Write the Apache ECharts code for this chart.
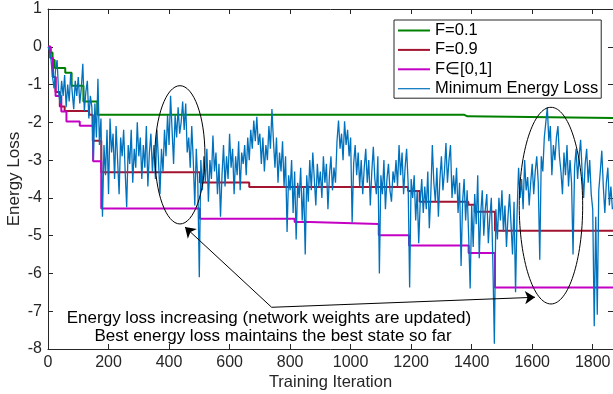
<!DOCTYPE html>
<html><head><meta charset="utf-8">
<script src="https://cdn.jsdelivr.net/npm/echarts@6/dist/echarts.min.js"></script>
<style>html,body{margin:0;padding:0;background:#fff}#c{width:613px;height:394px}</style>
</head><body><div id="c"></div>
<script>
const FONT = '"Liberation Sans", Arial, Helvetica, sans-serif';

// Minimum energy loss, one value every 5 iterations starting at 0
const blueStep = 5;
const blueLoss = [
  0, -0.1, -0.35, -0.8, -1.1, -0.6, -0.35, -1.2, -1.5, -0.9,
  -1.3, -0.75, -1.6, -1.0, -1.45, -0.7, -1.2, -1.65, -0.9, -1.3,
  -0.8, -1.5, -1.1, -0.45, -1.7, -1.2, -0.9, -1.9, -1.3, -1.6,
  -3.0, -1.5, -2.4, -0.85, -2.6, -1.9, -4.5, -2.6, -3.4, -2.2,
  -3.9, -1.9, -2.8, -2.3, -3.5, -2.1, -3.0, -3.9, -2.4, -2.9,
  -2.2, -3.3, -4.25, -2.6, -3.1, -2.2, -3.6, -2.7, -3.2, -2.0,
  -2.9, -2.4, -3.5, -2.6, -3.2, -2.1, -3.7, -2.8, -2.3, -3.3,
  -2.6, -3.5, -2.2, -3.0, -3.9, -2.7, -3.3, -2.2, -2.9, -1.8,
  -2.6, -1.3, -2.2, -3.1, -1.8, -2.4, -1.6, -2.3, -2.0, -1.45,
  -2.2, -1.5, -2.8, -2.4, -3.2, -2.1, -3.0, -4.2, -2.7, -3.6,
  -6.1, -3.0, -3.8, -2.9, -3.6, -2.7, -4.1, -3.0, -3.5, -2.35,
  -3.3, -2.8, -3.9, -3.1, -4.5, -3.4, -2.6, -3.7, -2.9, -3.5,
  -2.3, -3.2, -2.7, -3.9, -2.9, -3.4, -2.5, -3.8, -2.8, -3.1,
  -2.6, -3.4, -2.4, -3.0, -2.2, -2.7, -1.95, -2.5, -1.85, -2.6,
  -2.3, -3.1, -2.4, -3.3, -2.6, -3.0, -2.1, -2.7, -1.65, -2.5,
  -3.2, -2.4, -3.6, -2.8, -3.3, -2.5, -3.7, -2.9, -4.9, -3.4,
  -3.8, -3.0, -4.4, -3.3, -5.1, -3.6, -4.0, -3.2, -4.6, -3.7,
  -5.5, -3.4, -4.1, -3.0, -3.8, -2.8, -3.5, -4.2, -3.1, -3.7,
  -3.3, -4.0, -2.9, -3.6, -3.1, -4.3, -3.4, -2.9, -3.8, -3.2,
  -3.6, -2.5, -1.95, -2.7, -2.3, -3.0, -1.97, -2.6, -2.2, -2.9,
  -2.4, -4.65, -3.1, -2.6, -3.4, -2.8, -3.7, -3.0, -3.9, -3.2,
  -2.7, -3.6, -3.0, -4.2, -3.3, -2.65, -3.5, -3.9, -2.9, -6.0,
  -3.4, -3.9, -3.0, -4.3, -3.5, -3.1, -3.8, -4.1, -3.3, -3.6,
  -3.0, -3.7, -2.6, -3.4, -2.8, -3.9, -3.2, -2.7, -3.6, -6.37,
  -3.5, -4.0, -3.4, -4.6, -3.8, -5.2, -4.1, -3.5, -4.4, -3.7,
  -4.3, -3.3, -4.8, -3.9, -2.6, -3.6, -4.1, -3.2, -4.5, -3.5,
  -2.9, -3.8, -3.3, -2.55, -3.6, -3.0, -2.6, -4.0, -3.4, -3.9,
  -3.2, -4.4, -3.6, -5.8, -4.1, -3.5, -4.6, -3.8, -5.0, -6.4,
  -4.2, -5.3, -3.9, -4.7, -3.4, -5.6, -4.4, -3.8, -5.0, -4.3,
  -3.9, -5.2, -4.5, -4.0, -5.7, -7.86, -4.3, -5.1, -4.0, -4.6,
  -3.8, -4.9, -4.2, -5.3, -4.5, -3.9, -4.7, -5.5, -4.1, -6.5,
  -4.4, -3.2, -4.0, -3.5, -4.3, -3.0, -3.8, -3.45, -4.2, -3.6,
  -3.1, -3.9, -3.3, -2.9, -3.6, -5.64, -2.9, -3.3, -2.4, -2.0,
  -1.6, -2.5, -2.1, -3.4, -2.6, -3.0, -2.4, -2.1, -2.9, -3.3,
  -3.9, -2.8, -3.4, -2.6, -3.7, -3.0, -3.6, -5.5, -3.2, -2.7,
  -3.5, -2.9, -2.46, -3.3, -4.0, -3.1, -2.7, -3.6, -3.0, -3.9,
  -4.3, -7.4, -4.5, -7.09, -3.8, -3.3, -2.75, -3.7, -4.4, -3.6,
  -3.2, -4.2, -3.7, -4.3
];

// Best-so-far step curves: [iteration where value changes, new value]
const f01Steps = [[0,0],[8,-0.15],[15,-0.35],[22,-0.56],[57,-0.69],[78,-1.03],[117,-1.45],[163,-1.80],[1376,-1.84],[1386,-1.885],[1867,-1.885]];
const f09Steps = [[0,0],[8,-0.3],[16,-0.8],[25,-1.2],[39,-1.58],[55,-1.70],[136,-1.80],[148,-2.49],[176,-3.32],[502,-3.59],[665,-3.71],[1190,-3.82],[1228,-4.10],[1389,-4.18],[1410,-4.37],[1477,-4.87],[1867,-4.87]];
const fAnySteps = [[0,0],[8,-0.3],[16,-0.8],[25,-1.3],[44,-1.71],[61,-1.975],[105,-2.09],[149,-3.03],[176,-4.28],[502,-4.55],[815,-4.64],[865,-4.69],[1093,-4.99],[1193,-5.26],[1390,-5.46],[1477,-6.37],[1867,-6.37]];

const seriesNames = ['F=0.1', 'F=0.9', 'F\u2208[0,1]', 'Minimum Energy Loss'];
const seriesColors = ['#008000', '#A2142F', '#C400C4', '#0072BD'];
const xRange = [0, 1867], xStep = 200;
const yRange = [-8, 1], yStep = 1;
const xName = 'Training Iteration', yName = 'Energy Loss';

// Annotations (data units): ellipse [cx, cy, rx, ry], arrows [from, to]
const ellipses = [[436, -2.86, 82.6, 1.83], [1662, -4.205, 104.8, 2.603]];
const arrows = [[[739, -6.896], [452.7, -4.77]], [[739, -6.896], [1609.3, -6.631]]];
const noteLines = ['Energy loss increasing (network weights are updated)', 'Best energy loss maintains the best state so far'];

const bluePairs = blueLoss.map((v, i) => [i * blueStep, v]);
const axisColor = '#262626';

const chart = echarts.init(document.getElementById('c'), null, {renderer: 'canvas'});
const axisCommon = {
  axisLine: {show: true, onZero: false, lineStyle: {color: axisColor, width: 1}},
  axisTick: {show: true, inside: true, length: 5, lineStyle: {color: axisColor}},
  splitLine: {show: false}
};
const legendIcons = ['path://M0,0H32V2H0Z', 'path://M0,0H32V2H0Z', 'path://M0,0H32V2H0Z', 'path://M0,0H32V1.2H0Z'];
chart.setOption({
  animation: false,
  backgroundColor: '#fff',
  textStyle: {fontFamily: FONT},
  grid: {left: 48, right: 0, top: 9, bottom: 45, containLabel: false, outerBoundsMode: 'none'},
  legend: {
    data: seriesNames.map((n, i) => ({name: n, icon: legendIcons[i]})),
    orient: 'vertical',
    left: 394, top: 20,
    padding: [2, 3, 1, 4],
    itemWidth: 32, itemHeight: 16, itemGap: 2.4,
    symbolKeepAspect: true,
    borderColor: axisColor, borderWidth: 1, backgroundColor: '#fff',
    textStyle: {fontFamily: FONT, fontSize: 16.5, color: '#000', lineHeight: 16}
  },
  xAxis: [
    Object.assign({type: 'value', min: xRange[0], max: xRange[1], interval: xStep, position: 'bottom',
      name: xName, nameLocation: 'middle', nameGap: 25, nameMoveOverlap: false,
      nameTextStyle: {fontFamily: FONT, fontSize: 16.5, color: axisColor},
      axisLabel: {show: true, margin: 6, showMaxLabel: false, fontFamily: FONT, fontSize: 16, color: axisColor,
        formatter: v => (v % xStep === 0 ? String(v) : '')}}, axisCommon),
    Object.assign({type: 'value', min: xRange[0], max: xRange[1], interval: xStep, position: 'top',
      axisLabel: {show: false}}, axisCommon)
  ],
  yAxis: [
    Object.assign({type: 'value', min: yRange[0], max: yRange[1], interval: yStep, position: 'left',
      name: yName, nameLocation: 'middle', nameGap: 25, nameMoveOverlap: false,
      nameTextStyle: {fontFamily: FONT, fontSize: 17, color: axisColor},
      axisLabel: {show: true, margin: 6, fontFamily: FONT, fontSize: 16, color: axisColor}}, axisCommon),
    Object.assign({type: 'value', min: yRange[0], max: yRange[1], interval: yStep, position: 'right',
      axisLabel: {show: false}}, axisCommon)
  ],
  series: [
    {name: seriesNames[0], type: 'line', step: 'end', data: f01Steps, symbol: 'none', color: seriesColors[0],
      lineStyle: {width: 2, color: seriesColors[0]}, z: 2},
    {name: seriesNames[1], type: 'line', step: 'end', data: f09Steps, symbol: 'none', color: seriesColors[1],
      lineStyle: {width: 2, color: seriesColors[1]}, z: 2},
    {name: seriesNames[2], type: 'line', step: 'end', data: fAnySteps, symbol: 'none', color: seriesColors[2],
      lineStyle: {width: 2, color: seriesColors[2]}, z: 2},
    {name: seriesNames[3], type: 'line', data: bluePairs, symbol: 'none', color: seriesColors[3],
      lineStyle: {width: 1.3, color: seriesColors[3]}, z: 3},
    {type: 'custom', silent: true, z: 4, data: ellipses,
      renderItem: (params, api) => {
        const c = api.coord([api.value(0), api.value(1)]);
        const s = api.size([api.value(2), api.value(3)]);
        return {type: 'ellipse', shape: {cx: c[0], cy: c[1], rx: s[0], ry: s[1]},
          style: {fill: 'none', stroke: '#000', lineWidth: 1}};
      }},
    {type: 'lines', coordinateSystem: 'cartesian2d', silent: true, z: 4,
      symbol: ['none', 'arrow'], symbolSize: 10,
      lineStyle: {color: '#000', width: 1, opacity: 1},
      data: arrows.map(a => ({coords: a}))}
  ],
  graphic: [
    {type: 'text', z: 10, style: {text: noteLines[0], x: 269, y: 318, textAlign: 'center', textVerticalAlign: 'middle',
      align: 'center', verticalAlign: 'middle', font: '17px ' + FONT, fill: '#000'}},
    {type: 'text', z: 10, style: {text: noteLines[1], x: 273, y: 336.5, textAlign: 'center', textVerticalAlign: 'middle',
      align: 'center', verticalAlign: 'middle', font: '17px ' + FONT, fill: '#000'}}
  ]
});
</script>
</body></html>
